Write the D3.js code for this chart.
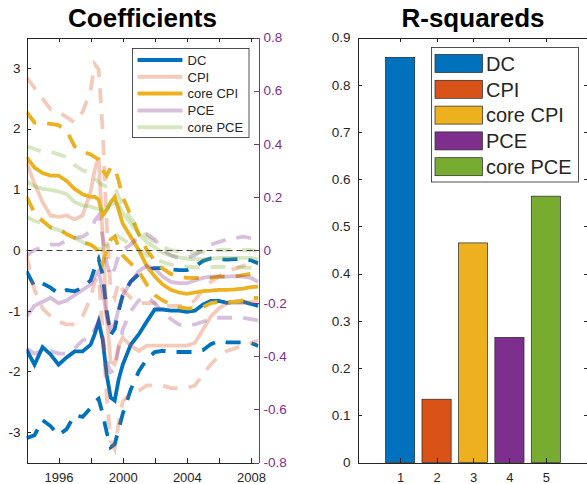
<!DOCTYPE html>
<html lang="en">
<head>
<meta charset="utf-8" />
<title>Coefficients and R-squareds</title>
<style type="text/css">
  body { margin: 0; background: #fff; }
  svg text { font-family: "Liberation Sans", Arial, Helvetica, sans-serif; fill: #262626; }
  .axis path, .axis line { stroke: #262626; shape-rendering: crispEdges; }
  .raxis path, .raxis line { stroke: #7E2F8E; shape-rendering: crispEdges; }
  .raxis text { fill: #7E2F8E; }
</style>
</head>
<body>
<div id="chart"></div>
<script src="https://cdn.jsdelivr.net/npm/d3@7"></script>
<script type="text/javascript">
// ---- data ----
var dates = [1994.0, 1994.5, 1995.0, 1995.5, 1996.0, 1996.5, 1997.0, 1997.5, 1998.0, 1998.25,
  1998.5, 1998.75, 1999.0, 1999.25, 1999.5, 1999.75, 2000.0, 2000.5, 2001.0, 2001.5,
  2002.0, 2002.5, 2003.0, 2003.5, 2004.0, 2004.5, 2005.0, 2005.5, 2006.0, 2006.5,
  2007.0, 2007.5, 2008.0, 2008.45];

// DC, left axis
var dcMid = [-1.64, -1.89, -1.6, -1.72, -1.89, -1.77, -1.67, -1.67, -1.56, -1.39,
  -1.18, -1.48, -2.05, -2.43, -2.48, -2.13, -1.89, -1.56, -1.39, -1.18,
  -0.98, -0.98, -1.0, -1.0, -1.02, -1.0, -0.9, -0.84, -0.84, -0.87,
  -0.85, -0.85, -0.89, -0.92];
var dcHi = [-0.35, -0.6, -0.55, -0.62, -0.72, -0.66, -0.68, -0.62, -0.5, -0.3,
  -0.15, -0.4, -1.0, -1.4, -1.3, -1.0, -0.75, -0.52, -0.4, -0.32,
  -0.3, -0.3, -0.32, -0.33, -0.33, -0.28, -0.18, -0.14, -0.15, -0.16,
  -0.15, -0.15, -0.17, -0.22];
var dcLo = [-3.1, -3.05, -2.8, -2.9, -3.05, -2.95, -2.72, -2.75, -2.6, -2.5,
  -2.45, -2.7, -3.0, -3.25, -3.2, -2.95, -2.7, -2.3, -2.0, -1.8,
  -1.68, -1.66, -1.68, -1.68, -1.68, -1.68, -1.65, -1.55, -1.5, -1.52,
  -1.52, -1.52, -1.53, -1.58];

// CPI, right axis
var cpiMid = [0.33, 0.25, 0.18, 0.13, 0.125, 0.13, 0.115, 0.13, 0.22, 0.3,
  0.35, 0.05, -0.25, -0.42, -0.43, -0.36, -0.33, -0.36, -0.38, -0.36,
  -0.36, -0.36, -0.36, -0.36, -0.36, -0.35, -0.3, -0.25, -0.22, -0.2,
  -0.2, -0.2, -0.195, -0.19];
var cpiHi = [0.65, 0.61, 0.57, 0.53, 0.52, 0.5, 0.48, 0.52, 0.6, 0.7,
  0.68, 0.45, 0.1, -0.15, -0.18, -0.12, -0.15, -0.18, -0.2, -0.2,
  -0.2, -0.21, -0.21, -0.21, -0.21, -0.19, -0.15, -0.12, -0.1, -0.08,
  -0.07, -0.06, -0.05, -0.05];
var cpiLo = [-0.02, -0.15, -0.22, -0.25, -0.27, -0.28, -0.28, -0.25, -0.18, -0.12,
  -0.1, -0.3, -0.55, -0.72, -0.75, -0.65, -0.57, -0.54, -0.53, -0.51,
  -0.51, -0.51, -0.52, -0.52, -0.52, -0.51, -0.47, -0.43, -0.4, -0.38,
  -0.37, -0.36, -0.35, -0.34];

// core CPI, right axis
var ccpiMid = [0.35, 0.31, 0.29, 0.28, 0.28, 0.26, 0.23, 0.21, 0.2, 0.2,
  0.19, 0.13, 0.15, 0.18, 0.2, 0.15, 0.1, 0.05, 0.0, -0.06,
  -0.1, -0.13, -0.15, -0.16, -0.165, -0.16, -0.155, -0.153, -0.15, -0.15,
  -0.148, -0.145, -0.14, -0.138];
var ccpiHi = [0.52, 0.48, 0.48, 0.475, 0.47, 0.45, 0.39, 0.37, 0.36, 0.35,
  0.34, 0.3, 0.28, 0.31, 0.31, 0.26, 0.2, 0.13, 0.06, 0.0,
  -0.04, -0.07, -0.09, -0.1, -0.105, -0.105, -0.105, -0.105, -0.1, -0.1,
  -0.1, -0.095, -0.09, -0.09];
var ccpiLo = [0.2, 0.14, 0.11, 0.085, 0.08, 0.06, 0.045, 0.03, 0.02, 0.01,
  -0.01, -0.05, 0.0, 0.04, 0.05, 0.01, -0.02, -0.05, -0.08, -0.13,
  -0.17, -0.19, -0.205, -0.215, -0.22, -0.22, -0.215, -0.2, -0.195, -0.195,
  -0.195, -0.19, -0.18, -0.18];

// PCE, right axis
var pceMid = [-0.25, -0.21, -0.195, -0.18, -0.2, -0.19, -0.17, -0.15, -0.13, -0.1,
  -0.08, -0.15, -0.25, -0.3, -0.28, -0.22, -0.17, -0.12, -0.08, -0.06,
  -0.07, -0.1, -0.12, -0.125, -0.125, -0.115, -0.105, -0.1, -0.1, -0.1,
  -0.098, -0.1, -0.105, -0.12];
var pceHi = [-0.02, 0.0, 0.01, 0.02, 0.02, 0.035, 0.045, 0.05, 0.07, 0.11,
  0.13, 0.05, -0.05, -0.1, -0.07, -0.02, 0.0, 0.02, 0.05, 0.06,
  0.04, 0.0, -0.02, -0.03, -0.03, -0.02, 0.0, 0.02, 0.03, 0.04,
  0.045, 0.05, 0.045, 0.045];
var pceLo = [-0.37, -0.39, -0.38, -0.38, -0.39, -0.39, -0.37, -0.34, -0.33, -0.3,
  -0.27, -0.33, -0.42, -0.46, -0.45, -0.37, -0.3, -0.23, -0.19, -0.175,
  -0.2, -0.235, -0.26, -0.28, -0.285, -0.28, -0.27, -0.26, -0.255, -0.255,
  -0.255, -0.255, -0.26, -0.265];

// core PCE, right axis
var cpceMid = [0.26, 0.24, 0.23, 0.226, 0.22, 0.21, 0.18, 0.168, 0.163, 0.158,
  0.155, 0.15, 0.158, 0.17, 0.18, 0.17, 0.14, 0.1, 0.06, 0.03,
  0.01, -0.01, -0.02, -0.028, -0.032, -0.035, -0.035, -0.033, -0.03, -0.03,
  -0.03, -0.03, -0.03, -0.035];
var cpceHi = [0.39, 0.38, 0.37, 0.37, 0.36, 0.35, 0.32, 0.3, 0.29, 0.27,
  0.255, 0.245, 0.24, 0.24, 0.24, 0.2, 0.17, 0.12, 0.08, 0.05,
  0.03, 0.01, 0.0, -0.005, -0.01, -0.01, -0.008, -0.005, 0.0, 0.0,
  0.0, 0.0, 0.0, -0.005];
var cpceLo = [0.125, 0.11, 0.1, 0.085, 0.075, 0.065, 0.045, 0.03, 0.015, 0.01,
  0.005, 0.0, 0.02, 0.05, 0.06, 0.05, 0.04, 0.02, 0.0, -0.02,
  -0.035, -0.045, -0.055, -0.06, -0.063, -0.065, -0.065, -0.064, -0.063, -0.064,
  -0.065, -0.066, -0.067, -0.07];

var seriesNames = ["DC", "CPI", "core CPI", "PCE", "core PCE"];
var r2Values = [0.858, 0.134, 0.465, 0.265, 0.564];

var yearTicks = [1996, 1998, 2000, 2002, 2004, 2006, 2008];
var leftTicks = [-3, -2, -1, 0, 1, 2, 3];
var rightTicks = [-0.8, -0.6, -0.4, -0.2, 0, 0.2, 0.4, 0.6, 0.8];
var r2Ticks = [0, 0.1, 0.2, 0.3, 0.4, 0.5, 0.6, 0.7, 0.8, 0.9];
var barTicks = [1, 2, 3, 4, 5];

// ---- setup ----
var W = 587, H = 484;
var colors = ["#0072BD", "#D95319", "#EDB120", "#7E2F8E", "#77AC30"];
var lineAlpha = [1, 0.3, 1, 0.3, 0.3];

var svg = d3.select("#chart").append("svg")
  .attr("width", W)
  .attr("height", H);

// ================= left: Coefficients =================
var x = d3.scaleLinear().domain([1994, 2008.47]).range([26.5, 258.5]);
var yL = d3.scaleLinear().domain([-3.5, 3.5]).range([462.5, 37.5]);
var yR = d3.scaleLinear().domain([-0.8, 0.8]).range([462.5, 37.5]);

var series = [
  { mid: dcMid, hi: dcHi, lo: dcLo, y: yL },
  { mid: cpiMid, hi: cpiHi, lo: cpiLo, y: yR },
  { mid: ccpiMid, hi: ccpiHi, lo: ccpiLo, y: yR },
  { mid: pceMid, hi: pceHi, lo: pceLo, y: yR },
  { mid: cpceMid, hi: cpceHi, lo: cpceLo, y: yR }
];

svg.append("defs").append("clipPath").attr("id", "clipL")
  .append("rect")
  .attr("x", x.range()[0]).attr("y", 37.5)
  .attr("width", x.range()[1] - x.range()[0]).attr("height", 425);

var plotL = svg.append("g").attr("clip-path", "url(#clipL)");

series.forEach(function(s, k) {
  var line = d3.line()
    .x(function(d, i) { return x(dates[i]); })
    .y(function(d) { return s.y(d); });
  [["mid", null], ["hi", "15,11"], ["lo", "15,11"]].forEach(function(p) {
    plotL.append("path")
      .attr("d", line(s[p[0]]))
      .attr("fill", "none")
      .attr("stroke", colors[k])
      .attr("stroke-opacity", lineAlpha[k])
      .attr("stroke-width", 3.8)
      .attr("stroke-dasharray", p[1]);
  });
});

// zero reference line
svg.append("line")
  .attr("x1", x.range()[0]).attr("x2", x.range()[1])
  .attr("y1", Math.round(yL(0)) + 0.5).attr("y2", Math.round(yL(0)) + 0.5)
  .attr("stroke", "#404040")
  .attr("stroke-width", 1)
  .attr("stroke-dasharray", "6,4");

// axes
svg.append("g").attr("class", "axis")
  .attr("transform", "translate(0,462.5)")
  .call(d3.axisBottom(x).tickValues(yearTicks).tickSizeInner(-4.5).tickSizeOuter(0)
    .tickPadding(10).tickFormat(function(d) { return d % 4 === 0 ? d : ""; }))
  .selectAll("text").style("font-size", "13px");

svg.append("g").attr("class", "axis")
  .attr("transform", "translate(0,37.5)")
  .call(d3.axisTop(x).tickValues(yearTicks).tickSizeInner(-4.5).tickSizeOuter(0).tickFormat(""));

svg.append("g").attr("class", "axis")
  .attr("transform", "translate(26.5,0)")
  .call(d3.axisLeft(yL).tickValues(leftTicks).tickSizeInner(-4.5).tickSizeOuter(0)
    .tickPadding(6).tickFormat(function(d) { return String(d); }))
  .selectAll("text").style("font-size", "13.5px");

svg.append("g").attr("class", "raxis")
  .attr("transform", "translate(258.5,0)")
  .call(d3.axisRight(yR).tickValues(rightTicks).tickSizeInner(-4.5).tickSizeOuter(0)
    .tickPadding(5).tickFormat(function(d) { return String(d); }))
  .selectAll("text").style("font-size", "13.5px");

svg.append("text")
  .attr("x", (x.range()[0] + x.range()[1]) / 2).attr("y", 27)
  .attr("text-anchor", "middle")
  .style("font-size", "26px").style("font-weight", "bold")
  .style("fill", "#000")
  .text("Coefficients");

// legend (lines)
var legL = svg.append("g");
legL.append("rect")
  .attr("x", 132.5).attr("y", 48.5).attr("width", 116.5).attr("height", 89)
  .attr("fill", "#fff").attr("stroke", "#262626").attr("stroke-width", 0.8);
seriesNames.forEach(function(name, k) {
  var cy = 60 + k * 16.8;
  legL.append("line")
    .attr("x1", 137.5).attr("x2", 182.5).attr("y1", cy).attr("y2", cy)
    .attr("stroke", colors[k]).attr("stroke-opacity", lineAlpha[k])
    .attr("stroke-width", 4);
  legL.append("text")
    .attr("x", 187.5).attr("y", cy + 4.7)
    .style("font-size", "13px")
    .text(name);
});

// ================= right: R-squareds =================
var bx = d3.scaleLinear().domain([-0.17, 6.17]).range([357.5, 588.5]);
var by = d3.scaleLinear().domain([0, 0.9]).range([462.5, 37.5]);

svg.append("g").selectAll("rect")
  .data(r2Values)
  .enter().append("rect")
  .attr("x", function(d, i) { return bx(i + 1 - 0.4); })
  .attr("width", function() { return bx(0.8) - bx(0); })
  .attr("y", function(d) { return by(d); })
  .attr("height", function(d) { return by(0) - by(d); })
  .attr("fill", function(d, i) { return colors[i]; })
  .attr("stroke", "#262626")
  .attr("stroke-width", 0.7);

svg.append("g").attr("class", "axis")
  .attr("transform", "translate(0,462.5)")
  .call(d3.axisBottom(bx).tickValues(barTicks).tickSizeInner(-4.5).tickSizeOuter(0)
    .tickPadding(10).tickFormat(d3.format("d")))
  .selectAll("text").style("font-size", "13px");

svg.append("g").attr("class", "axis")
  .attr("transform", "translate(0,37.5)")
  .call(d3.axisTop(bx).tickValues(barTicks).tickSizeInner(-4.5).tickSizeOuter(0).tickFormat(""));

svg.append("g").attr("class", "axis")
  .attr("transform", "translate(357.5,0)")
  .call(d3.axisLeft(by).tickValues(r2Ticks).tickSizeInner(-4.5).tickSizeOuter(0)
    .tickPadding(7).tickFormat(function(d) { return d === 0 ? "0" : d3.format(".1f")(d); }))
  .selectAll("text").style("font-size", "13.5px");

svg.append("g").attr("class", "axis")
  .attr("transform", "translate(588.5,0)")
  .call(d3.axisRight(by).tickValues(r2Ticks).tickSizeInner(-4.5).tickSizeOuter(0).tickFormat(""));

svg.append("text")
  .attr("x", (bx.range()[0] + bx.range()[1]) / 2).attr("y", 27)
  .attr("text-anchor", "middle")
  .style("font-size", "26px").style("font-weight", "bold")
  .style("fill", "#000")
  .text("R-squareds");

// legend (swatches)
var legR = svg.append("g");
legR.append("rect")
  .attr("x", 431.5).attr("y", 47.5).attr("width", 147).attr("height", 134.5)
  .attr("fill", "#fff").attr("stroke", "#262626").attr("stroke-width", 0.8);
seriesNames.forEach(function(name, k) {
  var cy = 63.5 + k * 25.8;
  legR.append("rect")
    .attr("x", 435).attr("y", cy - 9).attr("width", 47.5).attr("height", 18)
    .attr("fill", colors[k]).attr("stroke", "#262626").attr("stroke-width", 0.7);
  legR.append("text")
    .attr("x", 486).attr("y", cy + 7.2)
    .style("font-size", "20px")
    .text(name);
});
</script>
</body>
</html>
